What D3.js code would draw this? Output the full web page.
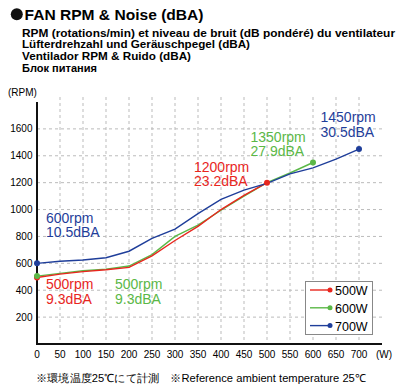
<!DOCTYPE html>
<html>
<head>
<meta charset="utf-8">
<script src="https://cdn.jsdelivr.net/npm/d3@7"></script>
<style>
body { margin:0; background:#fff; }
text { font-family: "Liberation Sans", Arial, sans-serif; }
</style>
</head>
<body>
<div class="chart"></div>
<script>
var watts = [0,50,100,150,200,250,300,350,400,450,500,550,600,650,700];
var rpm500 = [495,520,538,552,570,655,770,875,1000,1105,1200];
var rpm600 = [505,525,545,557,580,665,800,885,995,1100,1200,1272,1350];
var rpm700 = [600,615,625,642,690,785,855,970,1075,1145,1195,1265,1310,1375,1450];
var seriesNames = ['500W','600W','700W'];
var colors = ['#e8261e','#5bb847','#1f3e9a'];
var xTicks = [0,50,100,150,200,250,300,350,400,450,500,550,600,650,700];
var yTicks = [200,400,600,800,1000,1200,1400,1600];
var subtitles = ['RPM (rotations/min) et niveau de bruit (dB pondéré) du ventilateur',
                 'Lüfterdrehzahl und Geräuschpegel (dBA)',
                 'Ventilador RPM & Ruido (dBA)',
                 'Блок питания'];
var noteRpm = ['600rpm','500rpm','500rpm','1200rpm','1350rpm','1450rpm'];
var noteDba = ['10.5dBA','9.3dBA','9.3dBA','23.2dBA','27.9dBA','30.5dBA'];
var noteColor = [2,0,1,0,1,2];
// label positions (px): left x, baseline of first line
var notePos = [[46,222.5],[46,289],[115,289],[194,171.5],[250.5,141.5],[320.5,122]];

var W = 400, H = 392;
var svg = d3.select('.chart').append('svg').attr('width',W).attr('height',H);

var x = d3.scaleLinear().domain([0,750]).range([37,382]);
var y = d3.scaleLinear().domain([0,1800]).range([344,102]);

// title
svg.append('circle').attr('cx',16.8).attr('cy',14.3).attr('r',6).attr('fill','#111');
svg.append('text').attr('x',24.5).attr('y',19.5)
  .attr('textLength',179).attr('lengthAdjust','spacingAndGlyphs')
  .style('font-size','15.5px').style('font-weight','bold')
  .text('FAN RPM & Noise (dBA)');

var subWidths = [373,228,169,75];
var subBase = [36.8,48.4,60,71.6];
svg.selectAll('.sub').data(subtitles).enter().append('text')
  .attr('class','sub')
  .attr('x',22).attr('y',function(d,i){return subBase[i];})
  .attr('textLength',function(d,i){return subWidths[i];})
  .attr('lengthAdjust','spacingAndGlyphs')
  .style('font-size','11px').style('font-weight','bold')
  .text(function(d){return d;});

// grid
svg.selectAll('.vg').data(xTicks.slice(1)).enter().append('line')
  .attr('x1',function(d){return x(d);}).attr('x2',function(d){return x(d);})
  .attr('y1',97).attr('y2',344)
  .attr('stroke','#bbb').attr('stroke-dasharray','3,3');
svg.selectAll('.hg').data(yTicks).enter().append('line')
  .attr('x1',37).attr('x2',382)
  .attr('y1',function(d){return y(d);}).attr('y2',function(d){return y(d);})
  .attr('stroke','#bbb').attr('stroke-dasharray','3,3');

// axes
svg.append('line').attr('x1',37).attr('x2',37).attr('y1',102).attr('y2',344)
  .attr('stroke','#111').attr('stroke-width',2);
svg.append('line').attr('x1',36).attr('x2',382).attr('y1',344).attr('y2',344)
  .attr('stroke','#111').attr('stroke-width',2);

svg.selectAll('.yl').data(yTicks).enter().append('text')
  .attr('x',32.5).attr('y',function(d){return y(d)+3.5;})
  .style('text-anchor','end').style('font-size','10px')
  .text(function(d){return d;});
svg.selectAll('.xl').data(xTicks).enter().append('text')
  .attr('x',function(d){return x(d);}).attr('y',357.5)
  .style('text-anchor','middle').style('font-size','10px')
  .text(function(d){return d;});
svg.append('text').attr('x',384).attr('y',357.5).style('text-anchor','middle')
  .style('font-size','10px').text('(W)');
svg.append('text').attr('x',8).attr('y',95.5).style('font-size','10px').text('(RPM)');

svg.append('text').attr('x',36).attr('y',381.5).style('font-size','11px')
  .attr('textLength',330).attr('lengthAdjust','spacingAndGlyphs')
  .text('※環境温度25℃にて計測　※Reference ambient temperature 25℃');

// lines
var data = [rpm500, rpm600, rpm700];
var line = d3.line().x(function(d,i){return x(watts[i]);}).y(function(d){return y(d);});
[1,0,2].forEach(function(s){
  svg.append('path').datum(data[s]).attr('d',line)
    .attr('fill','none').attr('stroke',colors[s]).attr('stroke-width',1.4);
});
data.forEach(function(vals,s){
  var last = vals.length-1;
  svg.append('circle').attr('cx',x(watts[last])).attr('cy',y(vals[last])).attr('r',3).attr('fill',colors[s]);
});
[0,2,1].forEach(function(s){
  svg.append('circle').attr('cx',x(0)).attr('cy',y(data[s][0])).attr('r',3).attr('fill',colors[s]);
});

// notes
noteRpm.forEach(function(t,i){
  var g = svg.append('text').style('font-size','14px').attr('fill',colors[noteColor[i]]);
  g.append('tspan').attr('x',notePos[i][0]).attr('y',notePos[i][1]).text(t);
  g.append('tspan').attr('x',notePos[i][0]).attr('y',notePos[i][1]+14.8).text(noteDba[i]);
});

// legend
var lg = svg.append('g');
lg.append('rect').attr('x',305.5).attr('y',281.5).attr('width',67).attr('height',53)
  .attr('fill','#fff').attr('stroke','#888');
var items = lg.selectAll('.legend').data(seriesNames).enter().append('g')
  .attr('transform',function(d,i){return 'translate(0,' + (290 + i*17.8) + ')';});
items.append('line').attr('x1',310).attr('x2',330).attr('y1',0).attr('y2',0)
  .attr('stroke',function(d,i){return colors[i];}).attr('stroke-width',1.4);
items.append('circle').attr('cx',330).attr('cy',0).attr('r',2.5)
  .attr('fill',function(d,i){return colors[i];});
items.append('text').attr('x',335).attr('y',5).style('font-size','12.5px')
  .text(function(d){return d;});
</script>
</body>
</html>
